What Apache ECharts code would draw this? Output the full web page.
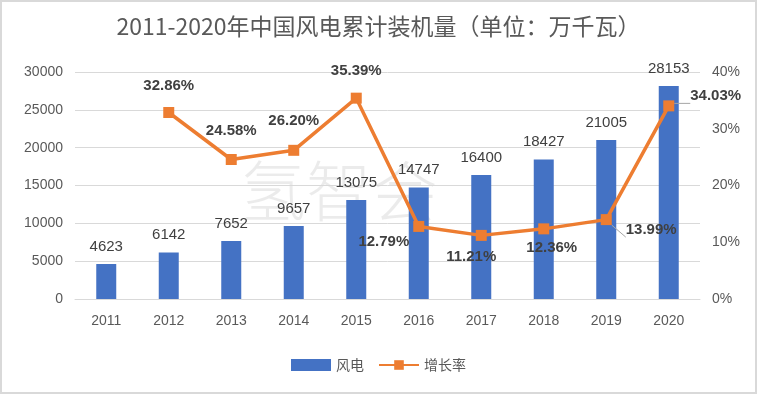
<!DOCTYPE html>
<html><head><meta charset="utf-8">
<script src="https://cdn.jsdelivr.net/npm/echarts@6/dist/echarts.min.js"></script>
<style>html,body{margin:0;padding:0;background:#fff}#c{width:757px;height:394px;box-sizing:border-box;border:2px solid #d9d9d9}</style>
</head><body><div id="c"></div>
<script>
const years = ['2011','2012','2013','2014','2015','2016','2017','2018','2019','2020'];
const capacity = [4623, 6142, 7652, 9657, 13075, 14747, 16400, 18427, 21005, 28153];
const growth = [null, 32.86, 24.58, 26.20, 35.39, 12.79, 11.21, 12.36, 13.99, 34.03];
const leftTicks = [0, 5000, 10000, 15000, 20000, 25000, 30000];
const rightTicks = [0, 10, 20, 30, 40];

const labelPos = {
  1: {position: 'top', distance: 14},
  2: {position: 'top', distance: 16},
  3: {position: 'top', distance: 16},
  4: {position: 'top', distance: 14},
  5: {position: 'left', offset: [-2, 15], distance: 2},
  6: {position: 'bottom', offset: [-10, 0], distance: 8},
  7: {position: 'bottom', offset: [8, -2], distance: 8},
  8: {position: 'right', offset: [8, 10], distance: 6},
  9: {position: 'right', offset: [10, -10], distance: 6}
};
const leader = {8: true, 9: true};
const growthData = growth.map((v, i) => {
  if (v === null) return null;
  const o = {value: v};
  if (labelPos[i]) o.label = labelPos[i];
  o.labelLine = {show: !!leader[i]};
  return o;
});

const chart = echarts.init(document.getElementById('c'), null, {renderer: 'canvas'});
chart.setOption({
  backgroundColor: '#fff',
  animation: false,
  title: {
    text: '2011-2020年中国风电累计装机量（单位：万千瓦）',
    left: 'center', top: 8,
    textStyle: {fontSize: 23, fontWeight: 'normal', color: '#595959', fontFamily: 'Noto Sans CJK SC'}
  },
  graphic: [{
    type: 'text', left: 238, top: 156, silent: true, z: 0,
    style: {text: '氢智会', fontSize: 66, fill: 'rgba(0,0,0,0.08)', fontFamily: 'Noto Sans CJK SC', fontWeight: 300}
  }],
  legend: {
    bottom: 15, left: 'center', itemGap: 14, itemWidth: 40, itemHeight: 12,
    textStyle: {fontSize: 14, color: '#595959', fontFamily: 'Noto Sans CJK SC'},
    data: [{name: '风电', icon: 'rect'}, {name: '增长率'}]
  },
  grid: {left: 73, right: 55, top: 70, bottom: 93},
  xAxis: {
    type: 'category', data: years,
    axisLine: {lineStyle: {color: '#d9d9d9'}},
    axisTick: {show: false},
    axisLabel: {fontSize: 14, color: '#595959', margin: 15, fontFamily: 'Liberation Sans'}
  },
  yAxis: [{
    type: 'value', min: 0, max: 30000, interval: 5000,
    axisLine: {show: false}, axisTick: {show: false},
    splitLine: {lineStyle: {color: '#d9d9d9', width: 1}},
    axisLabel: {fontSize: 14, color: '#595959', margin: 12, fontFamily: 'Liberation Sans', formatter: v => String(v)}
  }, {
    type: 'value', min: 0, max: 40, interval: 10,
    axisLine: {show: false}, axisTick: {show: false}, splitLine: {show: false},
    axisLabel: {fontSize: 14, color: '#595959', margin: 12, formatter: '{value}%', fontFamily: 'Liberation Sans'}
  }],
  series: [{
    name: '风电', type: 'bar', data: capacity, barWidth: 20,
    itemStyle: {color: '#4472C4'},
    label: {show: true, position: 'top', distance: 10, fontSize: 15, color: '#404040', fontFamily: 'Liberation Sans'},
    z: 2
  }, {
    name: '增长率', type: 'line', yAxisIndex: 1, data: growthData,
    symbol: 'rect', symbolSize: 11,
    lineStyle: {color: '#ED7D31', width: 3.5},
    itemStyle: {color: '#ED7D31'},
    connectNulls: false,
    label: {show: true, formatter: p => p.value.toFixed(2) + '%', fontSize: 15, fontWeight: 'bold', color: '#404040', fontFamily: 'Liberation Sans'},
    labelLine: {show: false, lineStyle: {color: '#a6a6a6', width: 1}},
    z: 3
  }]
});
</script></body></html>
